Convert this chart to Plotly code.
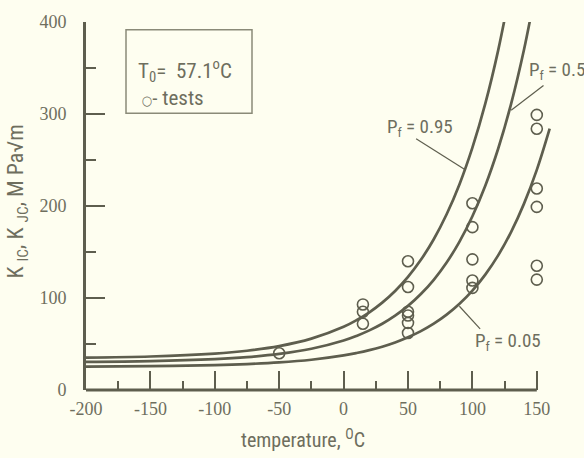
import plotly.graph_objects as go

# ---- data ----
temp_curve = [-200, -150, -100, -75, -50, -25, 0, 10, 20, 30, 40, 50, 60, 70, 80, 90,
              100, 110, 120, 130, 140, 150, 160]
k_p95 = [35.2, 36.4, 39.6, 42.7, 47.7, 55.8, 68.7, 75.9, 84.5, 95.0, 107.7, 123.0, 141.5,
         163.9, 191.0, 223.7, 263.4, 311.2, 369.2, 439.2]
k_p50 = [30.6, 31.4, 33.6, 35.7, 39.2, 44.8, 53.8, 58.8, 64.8, 72.0, 80.8, 91.4, 104.3,
         119.8, 138.6, 161.3, 188.8, 222.0, 262.2, 310.7, 369.5, 440.5]
k_p05 = [25.5, 25.9, 27.1, 28.2, 30.0, 32.9, 37.6, 40.2, 43.3, 47.1, 51.7, 57.3, 64.0,
         72.1, 81.9, 93.7, 108.0, 125.4, 146.3, 171.6, 202.3, 239.3, 284.1]

test_temp = [-50, 15, 15, 15, 50, 50, 50, 50, 50, 50, 100, 100, 100, 100, 100,
             150, 150, 150, 150, 150, 150]
test_k = [40, 93, 85, 72, 140, 112, 85, 81, 73, 62, 203, 177, 142, 119, 111,
          299, 284, 219, 199, 135, 120]

x_ticks = [-200, -150, -100, -50, 0, 50, 100, 150]
x_tick_text = ["-200", "-150", "-100", "-50", "0", "50", "100", "150"]
y_ticks = [0, 100, 200, 300, 400]

BG = "#FEFEF0"
LINE = "#5E5E4E"
TXT = "#6E6E5E"
SANS = ("Roboto Condensed, DejaVu Sans Condensed, Open Sans Condensed, Noto Sans Condensed, "
        "Liberation Sans Narrow, Arial Narrow, Roboto, sans-serif")
SERIF = "Liberation Serif, DejaVu Serif, serif"

fig = go.Figure()
for ks in (k_p95, k_p50, k_p05):
    fig.add_trace(go.Scatter(x=temp_curve[:len(ks)], y=ks, mode="lines",
                             line=dict(color=LINE, width=2.7, shape="spline"),
                             showlegend=False, hoverinfo="skip"))
fig.add_trace(go.Scatter(x=test_temp, y=test_k, mode="markers",
                         marker=dict(symbol="circle-open", size=11, color=LINE,
                                     line=dict(width=1.6, color=LINE)),
                         showlegend=False))

fig.update_layout(
    width=584, height=458,
    margin=dict(l=86, r=15, t=15, b=68),
    paper_bgcolor=BG, plot_bgcolor=BG,
    font=dict(family=SANS, color=TXT),
    xaxis=dict(range=[-200, 175], showgrid=False, zeroline=False, showline=False,
               tickvals=x_ticks, ticktext=x_tick_text,
               ticks="inside", ticklen=19, tickwidth=2.4, tickcolor=LINE,
               tickfont=dict(family=SERIF, size=18, color=TXT), ticklabelstandoff=6,
               minor=dict(tickvals=[-175, -125, -75, -25, 25, 75, 125], ticks="inside",
                          ticklen=9, tickwidth=2.4, tickcolor=LINE)),
    yaxis=dict(range=[0, 400], showgrid=False, zeroline=False, showline=True,
               linecolor=LINE, linewidth=2.8,
               tickvals=y_ticks, ticks="inside", ticklen=19, tickwidth=2.4, tickcolor=LINE,
               tickfont=dict(family=SERIF, size=18, color=TXT), ticklabelstandoff=13,
               minor=dict(dtick=50, ticks="inside", ticklen=10, tickwidth=2.4, tickcolor=LINE)),
)

# x axis line only from -200 to 150
fig.add_shape(type="line", xref="x", yref="paper", x0=-200, x1=150, y0=0, y1=0,
              line=dict(color=LINE, width=2.8))

# info box (paper coords for plot area 86..569 x 15..390)
PW, PH = 483.0, 375.0
def px(x):
    return (x - 86) / PW
def py(y):
    return (390 - y) / PH

fig.add_shape(type="rect", xref="paper", yref="paper", x0=px(126), x1=px(252),
              y0=py(108), y1=py(23), line=dict(color="#8A8A78", width=1.5))
fig.add_annotation(xref="paper", yref="paper", x=px(136), y=py(64), xanchor="left", yanchor="middle",
                   text="T<sub>0</sub>=  57.1<sup>o</sup>C", showarrow=False,
                   font=dict(size=21, color=TXT))
fig.add_annotation(xref="paper", yref="paper", x=px(140), y=py(92), xanchor="left", yanchor="middle",
                   text="<span style='font-size:13px'>○</span>- tests", showarrow=False,
                   font=dict(size=21, color=TXT))

# curve labels with leader lines
labels = [
    ("P<sub>f</sub> = 0.95", 59, 285, (56.3, 273), (93.8, 240)),
    ("P<sub>f</sub> = 0.5", 166, 347, (155.2, 331), (130.1, 304)),
    ("P<sub>f</sub> = 0.05", 128, 53, (106, 66.5), (89.9, 91)),
]
for txt, tx, ty, p0, p1 in labels:
    fig.add_annotation(x=tx, y=ty, text=txt, showarrow=False,
                       font=dict(size=19, color=TXT))
    fig.add_shape(type="line", x0=p0[0], y0=p0[1], x1=p1[0], y1=p1[1],
                  line=dict(color=LINE, width=1.2))

# axis titles
fig.add_annotation(xref="paper", yref="paper", x=px(303), y=py(440), xanchor="center",
                   yanchor="middle", text="temperature, <sup>O</sup>C", showarrow=False,
                   font=dict(size=20, color=TXT))
fig.add_annotation(xref="paper", yref="paper", x=px(18), y=py(198), xanchor="center",
                   yanchor="middle", textangle=-90,
                   text="K <sub>IC</sub>, K <sub>JC</sub>, M Pa√m", showarrow=False,
                   font=dict(size=22, color=TXT))

fig.write_html("out.html", config={"displayModeBar": False},
               post_script="document.body.style.margin='0';"
                           "document.body.style.background='#FEFEF0';")
